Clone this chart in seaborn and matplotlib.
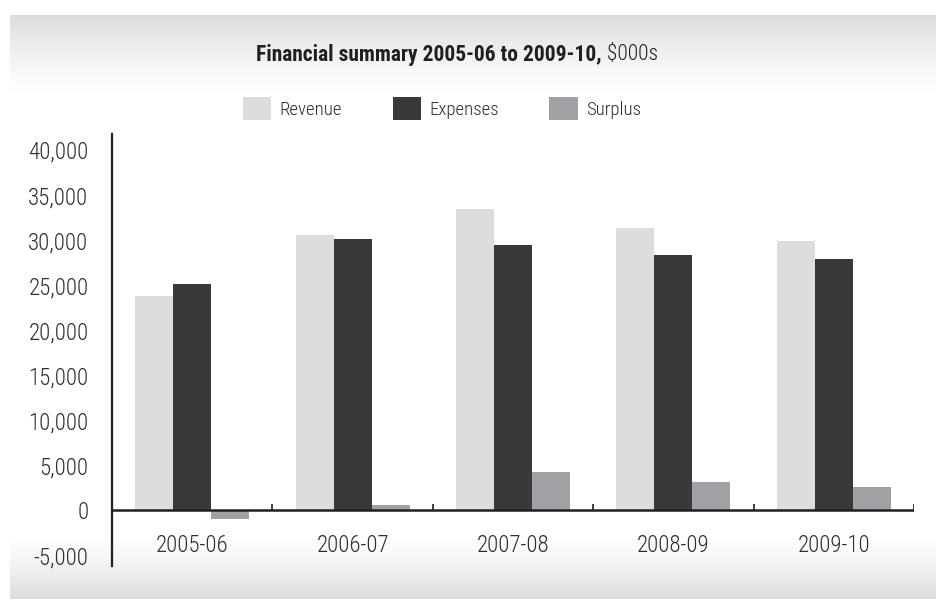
import numpy as np
import pandas as pd
import matplotlib
matplotlib.use("Agg")
import matplotlib.pyplot as plt
import seaborn as sns
from matplotlib.ticker import FuncFormatter

# Financial summary, $000s
years = ["2005-06", "2006-07", "2007-08", "2008-09", "2009-10"]
revenue = [23800, 30600, 33500, 31300, 29900]
expenses = [25100, 30100, 29500, 28400, 27900]
surplus = [-900, 600, 4300, 3200, 2600]
series_names = ["Revenue", "Expenses", "Surplus"]
series_colors = ["#dcdddf", "#3a393a", "#a0a1a4"]
y_ticks = [-5000, 0, 5000, 10000, 15000, 20000, 25000, 30000, 35000, 40000]

df = pd.DataFrame({
    "Year": years * 3,
    "Series": [s for s in series_names for _ in years],
    "Value": revenue + expenses + surplus,
})

sns.set_theme(style="white")
plt.rcParams["font.family"] = ["Roboto Condensed", "DejaVu Sans"]
ink = "#231f20"
text_c = "#2e2e2e"

W, H = 936, 601
fig = plt.figure(figsize=(W / 100, H / 100), dpi=100)
fig.patch.set_facecolor("white")

# soft grey bands fading in from the top and bottom edges
bg = fig.add_axes([0, 0, 1, 1], zorder=0)
bg.set_xlim(0, W)
bg.set_ylim(H, 0)
bg.axis("off")
rows = np.arange(H)
shade = np.zeros(H)
top0, top1 = 15, 95
bot0, bot1 = 535, 598
t = np.clip((top1 - rows) / (top1 - top0), 0, 1)
shade = np.maximum(shade, t ** 1.3)
b = np.clip((rows - bot0) / (bot1 - bot0), 0, 1)
shade = np.maximum(shade, b ** 1.3)
shade[rows < top0] = 0
shade[rows > bot1] = 0
grey = np.array([0.86, 0.865, 0.875])
img = 1 - shade[:, None] * (1 - grey)[None, :]
img = np.repeat(img[:, None, :], W, axis=1)
img[:, :10, :] = 1.0
bg.imshow(img, extent=(0, W, H, 0), aspect="auto", interpolation="bilinear")

# main plotting area
left, right = 112 / W, 914 / W
bottom, top = 1 - 566 / H, 1 - 134 / H
ax = fig.add_axes([left, bottom, right - left, top - bottom], zorder=1)
ax.patch.set_alpha(0)

sns.barplot(data=df, x="Year", y="Value", hue="Series", hue_order=series_names,
            palette=series_colors, width=0.71, saturation=1, ax=ax,
            edgecolor="none", linewidth=0, errorbar=None, legend=True)

ax.set_xlim(-0.5, len(years) - 0.5)
ax.set_ylim(-6160, 41780)
ax.set_xlabel("")
ax.set_ylabel("")

for side in ["top", "right", "bottom"]:
    ax.spines[side].set_visible(False)
ax.spines["left"].set_color(ink)
ax.spines["left"].set_linewidth(1.6)

# zero line with small upward ticks between categories
ax.axhline(0, color=ink, linewidth=1.8, zorder=3)
bounds = np.arange(len(years)) + 0.5
ax.vlines(bounds, 0, 700, color=ink, linewidth=1.2, zorder=3)

ax.set_yticks(y_ticks)
ax.yaxis.set_major_formatter(FuncFormatter(lambda v, p: f"{int(v):,}"))
ax.tick_params(axis="y", length=0, pad=17, labelsize=16.5, labelcolor=text_c)
ax.tick_params(axis="x", length=0, pad=-23, labelsize=16.5, labelcolor=text_c)
for lab in ax.get_xticklabels() + ax.get_yticklabels():
    lab.set_fontweight("light")
for lab in ax.get_xticklabels():
    lab.set_verticalalignment("top")

# legend above the plot
handles, labels = ax.get_legend_handles_labels()
if ax.legend_:
    ax.legend_.remove()
leg = fig.legend(handles, labels, loc="center", bbox_to_anchor=(442 / W, 1 - 108.5 / H),
                 ncol=3, frameon=False, fontsize=13.5, handlelength=1.5, handleheight=1.5,
                 handletextpad=0.45, columnspacing=2.7, labelcolor=text_c)
for lt in leg.get_texts():
    lt.set_fontweight("light")

# title: bold lead followed by a regular unit note
fig.canvas.draw()
renderer = fig.canvas.get_renderer()
t1 = fig.text(0, 1 - 55 / H, "Financial summary 2005-06 to 2009-10,", fontsize=15.5,
              fontweight="bold", color=ink, ha="left", va="center")
t2 = fig.text(0, 1 - 55 / H, " $000s", fontsize=15.5, fontweight="light", color=ink,
              ha="left", va="center")
w1 = t1.get_window_extent(renderer).width
w2 = t2.get_window_extent(renderer).width
x0 = 457 - (w1 + w2) / 2
t1.set_x(x0 / W)
t2.set_x((x0 + w1) / W)

fig.savefig("out.png", dpi=100)
